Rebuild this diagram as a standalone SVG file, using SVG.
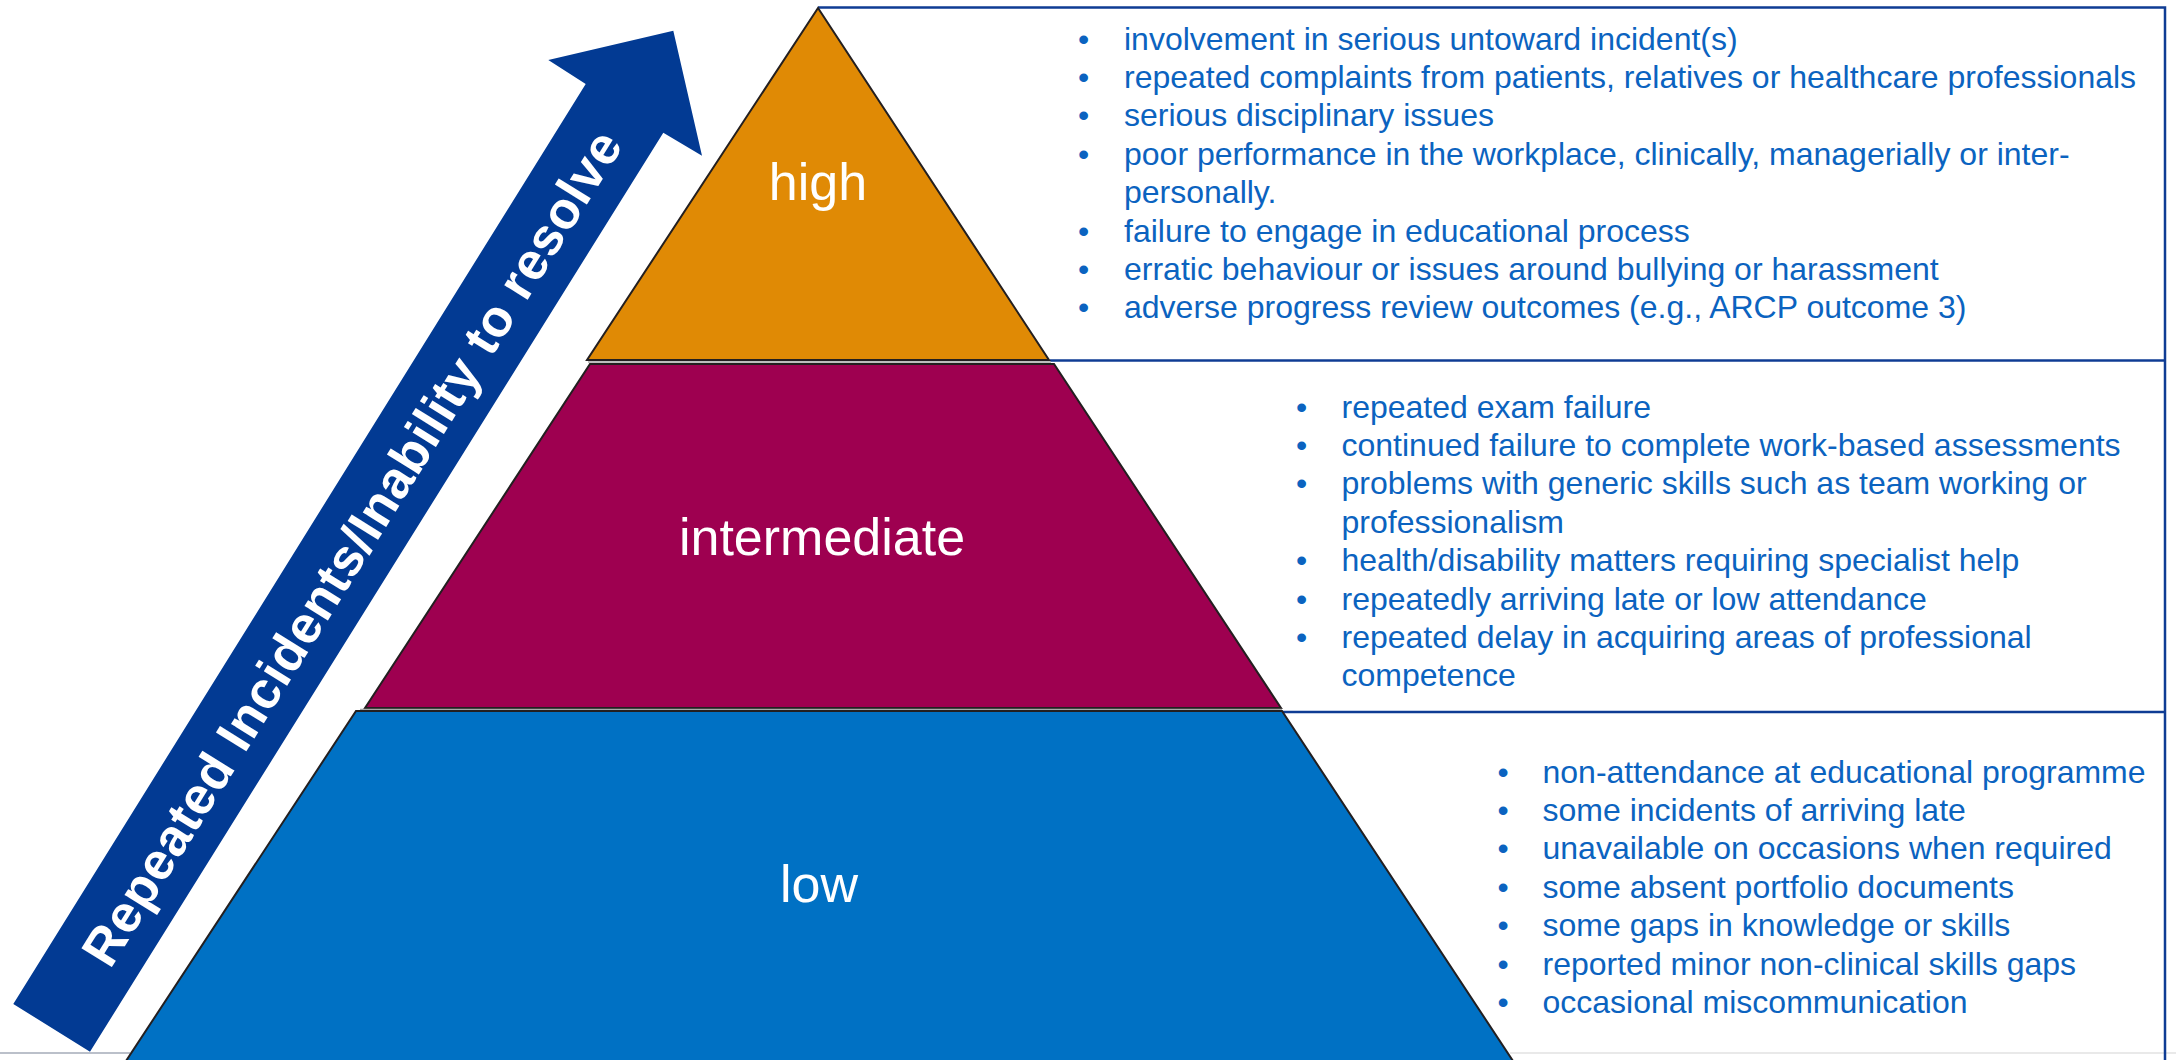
<svg xmlns="http://www.w3.org/2000/svg" width="2176" height="1060" viewBox="0 0 2176 1060">
  <style>
    .tier { stroke: #231F20; stroke-width: 2; stroke-linejoin: miter; }
    .lbl { font-family: "Liberation Sans", Arial, sans-serif; font-size: 52px; fill: #FFFFFF; text-anchor: middle; }
    .item { font-family: "Liberation Sans", Arial, sans-serif; font-size: 32px; fill: #0B63C0; }
    .rule { stroke: #0F3C94; stroke-width: 2.5; fill: none; }
    .gap { stroke: #A8A8A8; stroke-width: 1.5; }
    .arrowtxt { font-family: "Liberation Sans", Arial, sans-serif; font-weight: bold; font-size: 52px; fill: #FFFFFF; }
  </style>
  <rect x="0" y="0" width="2176" height="1060" fill="#FFFFFF"/>

  <!-- faint bottom lines -->
  <g id="baseline-lines">
    <line x1="0" y1="1053" x2="130" y2="1053" stroke="#A4ABB8" stroke-width="1.5"/>
    <line x1="1510" y1="1053" x2="2176" y2="1053" stroke="#E2E2E2" stroke-width="1.5"/>
  </g>

  <!-- panel rules (the only connector-like lines) -->
  <g id="connectors">
    <polyline class="rule" points="818,7.5 2165,7.5 2165,1060"/>
    <line class="rule" x1="1050" y1="360.5" x2="2165" y2="360.5"/>
    <line class="rule" x1="1282" y1="712" x2="2165" y2="712"/>
  </g>

  <!-- arrow -->
  <g id="arrow">
    <polygon points="673.3,30.7 702,155.7 663.3,132.7 90,1051.7 13.3,1004 585.7,84 548.3,60" fill="#023A93"/>
    <text class="arrowtxt" transform="translate(51.65,1027.85) rotate(-58.08)" x="80" y="19" textLength="972" lengthAdjust="spacing">Repeated Incidents/Inability to resolve</text>
  </g>

  <!-- pyramid tiers -->
  <g id="tier-high">
    <polygon class="tier" points="818,8 1049,360 587,360" fill="#E08A05"/>
    <text class="lbl" x="818" y="200">high</text>
  </g>
  <line class="gap" x1="588" y1="362" x2="1051" y2="362"/>
  <g id="tier-intermediate">
    <polygon class="tier" points="590,364 1054,364 1281,708 365,708" fill="#9E0050"/>
    <text class="lbl" x="822" y="555">intermediate</text>
  </g>
  <line class="gap" x1="360" y1="709.5" x2="1282" y2="709.5"/>
  <g id="tier-low">
    <polygon class="tier" points="356,711 1282,711 1515,1064 124,1064" fill="#0071C4"/>
    <text class="lbl" x="819" y="902">low</text>
  </g>

  <!-- high panel -->
  <g id="panel-high">
    <text class="item" x="1078" y="49.5">•</text><text class="item" x="1124" y="49.5">involvement in serious untoward incident(s)</text>
    <text class="item" x="1078" y="87.9">•</text><text class="item" x="1124" y="87.9">repeated complaints from patients, relatives or healthcare professionals</text>
    <text class="item" x="1078" y="126.3">•</text><text class="item" x="1124" y="126.3">serious disciplinary issues</text>
    <text class="item" x="1078" y="164.7">•</text><text class="item" x="1124" y="164.7">poor performance in the workplace, clinically, managerially or inter-</text>
    <text class="item" x="1124" y="203.1">personally.</text>
    <text class="item" x="1078" y="241.5">•</text><text class="item" x="1124" y="241.5">failure to engage in educational process</text>
    <text class="item" x="1078" y="279.9">•</text><text class="item" x="1124" y="279.9">erratic behaviour or issues around bullying or harassment</text>
    <text class="item" x="1078" y="318.3">•</text><text class="item" x="1124" y="318.3">adverse progress review outcomes (e.g., ARCP outcome 3)</text>
  </g>

  <!-- intermediate panel -->
  <g id="panel-intermediate">
    <text class="item" x="1296" y="417.5">•</text><text class="item" x="1341.5" y="417.5">repeated exam failure</text>
    <text class="item" x="1296" y="455.9">•</text><text class="item" x="1341.5" y="455.9">continued failure to complete work-based assessments</text>
    <text class="item" x="1296" y="494.3">•</text><text class="item" x="1341.5" y="494.3">problems with generic skills such as team working or</text>
    <text class="item" x="1341.5" y="532.7">professionalism</text>
    <text class="item" x="1296" y="571.1">•</text><text class="item" x="1341.5" y="571.1">health/disability matters requiring specialist help</text>
    <text class="item" x="1296" y="609.5">•</text><text class="item" x="1341.5" y="609.5">repeatedly arriving late or low attendance</text>
    <text class="item" x="1296" y="647.9">•</text><text class="item" x="1341.5" y="647.9">repeated delay in acquiring areas of professional</text>
    <text class="item" x="1341.5" y="686.3">competence</text>
  </g>

  <!-- low panel -->
  <g id="panel-low">
    <text class="item" x="1497.5" y="782.5">•</text><text class="item" x="1542.5" y="782.5">non-attendance at educational programme</text>
    <text class="item" x="1497.5" y="820.9">•</text><text class="item" x="1542.5" y="820.9">some incidents of arriving late</text>
    <text class="item" x="1497.5" y="859.3">•</text><text class="item" x="1542.5" y="859.3">unavailable on occasions when required</text>
    <text class="item" x="1497.5" y="897.7">•</text><text class="item" x="1542.5" y="897.7">some absent portfolio documents</text>
    <text class="item" x="1497.5" y="936.1">•</text><text class="item" x="1542.5" y="936.1">some gaps in knowledge or skills</text>
    <text class="item" x="1497.5" y="974.5">•</text><text class="item" x="1542.5" y="974.5">reported minor non-clinical skills gaps</text>
    <text class="item" x="1497.5" y="1012.9">•</text><text class="item" x="1542.5" y="1012.9">occasional miscommunication</text>
  </g>
</svg>
